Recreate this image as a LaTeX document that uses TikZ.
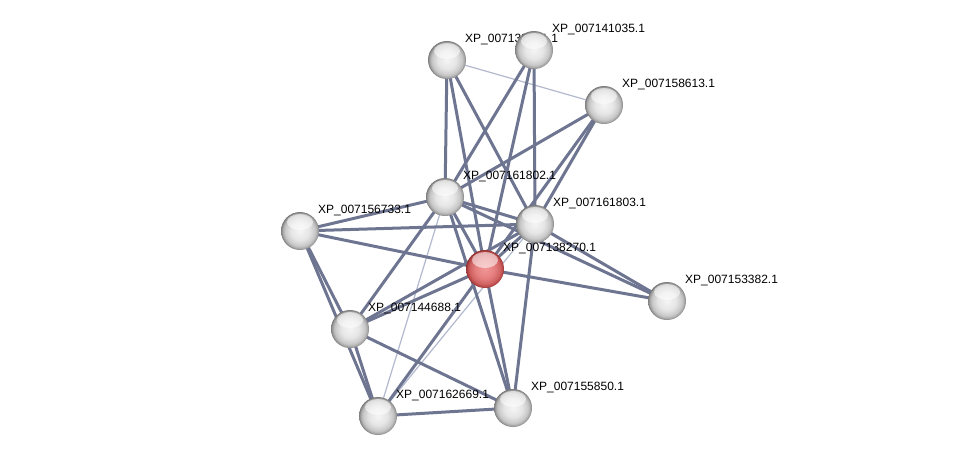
\documentclass[tikz,border=0pt]{standalone}
\usepackage{fontspec}
\setmainfont{Liberation Sans}
\usetikzlibrary{calc}
\definecolor{edgec}{RGB}{110,117,145}
\definecolor{edgel}{RGB}{178,185,207}
\definecolor{qa}{RGB}{242,150,150}
\definecolor{qb}{RGB}{230,128,128}
\definecolor{qc}{RGB}{208,98,98}
\definecolor{qd}{RGB}{175,65,65}
\definecolor{qe}{RGB}{140,45,45}
\pgfdeclareradialshading{protsph}{\pgfpoint{0bp}{0bp}}{color(0bp)=(black!4); color(12bp)=(black!10); color(20bp)=(black!22); color(24bp)=(black!40); color(25bp)=(black!55); color(50bp)=(black!55)}
\pgfdeclareradialshading{querysph}{\pgfpoint{0bp}{0bp}}{color(0bp)=(qa); color(12bp)=(qb); color(20bp)=(qc); color(24bp)=(qd); color(25bp)=(qe); color(50bp)=(qe)}
\begin{document}
\begin{tikzpicture}[x=1pt,y=-1pt,
  prot/.style={circle,minimum size=38pt,inner sep=0pt,shading=protsph,
    path picture={\fill[white,opacity=0.55] ($(path picture bounding box.center)+(0,-9)$) ellipse (13 and 8);}},
  query/.style={prot,shading=querysph},
  lbl/.style={anchor=base west,inner sep=0pt,font=\fontsize{12}{14}\selectfont},
  thick edge/.style={draw=edgec,line width=3pt},
  thin edge/.style={draw=edgel,line width=1.2pt}]
\useasboundingbox (0,0) rectangle (976,461);
\fill[white] (0,0) rectangle (976,461);
% coordinates
\coordinate (A) at (447,60);
\coordinate (B) at (534,50);
\coordinate (C) at (604,105);
\coordinate (D) at (445,197);
\coordinate (E) at (535,224);
\coordinate (F) at (300,231);
\coordinate (G) at (485,269);
\coordinate (H) at (667,301);
\coordinate (I) at (350,329);
\coordinate (J) at (378,416);
\coordinate (K) at (513,408);
% edges
\draw[thin edge] (A) -- (C);
\draw[thin edge] (D) -- (J);
\draw[thin edge] (E) -- (J);
\foreach \a/\b in {A/D,A/E,A/G,B/D,B/G,B/E,C/D,C/E,C/G,D/E,D/F,D/G,D/I,D/K,D/H,
  E/F,E/G,E/H,E/K,E/I,F/G,F/I,F/J,G/H,G/I,G/J,G/K,I/J,I/K,J/K}
  \draw[thick edge] (\a) -- (\b);
% label of A (covered by B)
\node[lbl] (lA) at ($(A)+(18,-17.5)$) {XP\_007139551.1};
% nodes
\node[prot] (nA) at (A) {};
\node[prot] (nB) at (B) {};
\node[prot] (nC) at (C) {};
\node[prot] (nD) at (D) {};
\node[prot] (nE) at (E) {};
\node[prot] (nF) at (F) {};
\node[query] (nG) at (G) {};
\node[prot] (nH) at (H) {};
\node[prot] (nI) at (I) {};
\node[prot] (nJ) at (J) {};
\node[prot] (nK) at (K) {};
% labels
\node[lbl] (lB) at ($(B)+(18,-17.5)$) {XP\_007141035.1};
\node[lbl] (lC) at ($(C)+(18,-17.5)$) {XP\_007158613.1};
\node[lbl] (lD) at ($(D)+(18,-17.5)$) {XP\_007161802.1};
\node[lbl] (lE) at ($(E)+(18,-17.5)$) {XP\_007161803.1};
\node[lbl] (lF) at ($(F)+(18,-17.5)$) {XP\_007156733.1};
\node[lbl] (lG) at ($(G)+(18,-17.5)$) {XP\_007138270.1};
\node[lbl] (lH) at ($(H)+(18,-17.5)$) {XP\_007153382.1};
\node[lbl] (lI) at ($(I)+(18,-17.5)$) {XP\_007144688.1};
\node[lbl] (lJ) at ($(J)+(18,-17.5)$) {XP\_007162669.1};
\node[lbl] (lK) at ($(K)+(18,-17.5)$) {XP\_007155850.1};
\end{tikzpicture}
\end{document}
